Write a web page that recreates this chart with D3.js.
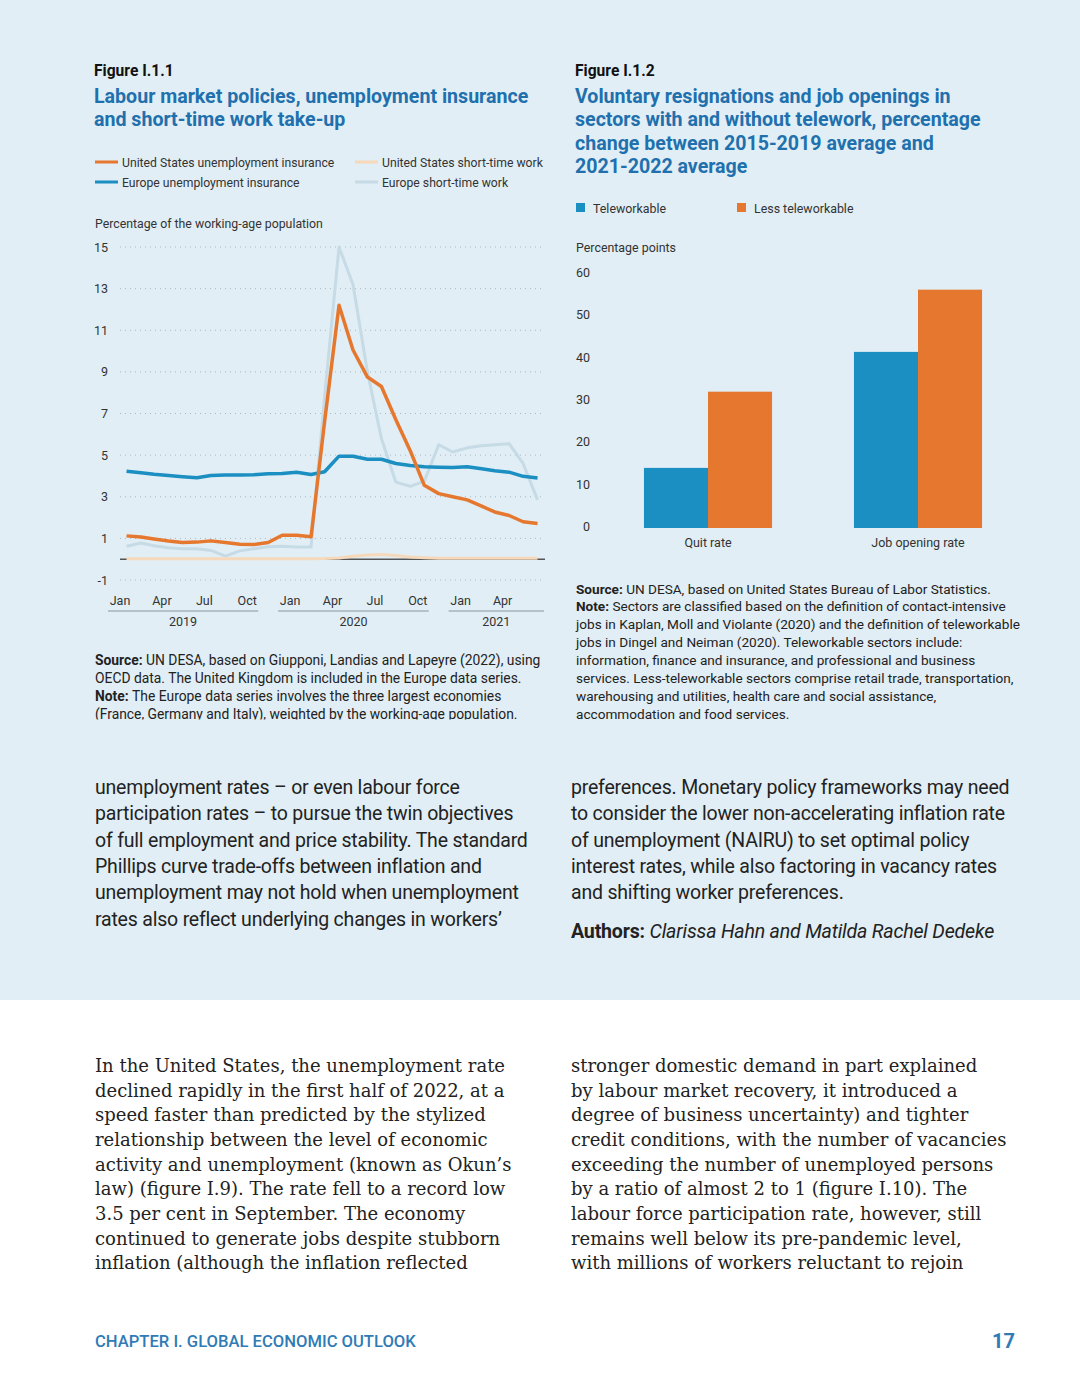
<!DOCTYPE html>
<html>
<head>
<meta charset="utf-8">
<script src="https://cdn.jsdelivr.net/npm/d3@7"></script>
<style>
  html, body { margin: 0; padding: 0; background: #fff; }
  svg { display: block; font-family: Roboto, "Noto Sans", sans-serif; }
</style>
</head>
<body>
<svg id="page"></svg>
<script>
// ----------------------------------
// Data
// ----------------------------------
const months = ["2019-01","2019-02","2019-03","2019-04","2019-05","2019-06","2019-07","2019-08","2019-09","2019-10","2019-11","2019-12",
  "2020-01","2020-02","2020-03","2020-04","2020-05","2020-06","2020-07","2020-08","2020-09","2020-10","2020-11","2020-12",
  "2021-01","2021-02","2021-03","2021-04","2021-05","2021-06"];
const usUnemploymentInsurance = [1.12, 1.07, 0.97, 0.87, 0.80, 0.82, 0.88, 0.80, 0.72, 0.70, 0.80, 1.15,
  1.15, 1.08, 6.6, 12.2, 10.05, 8.75, 8.3, 6.7, 5.2, 3.55, 3.15, 3.0, 2.85, 2.55, 2.27, 2.1, 1.8, 1.72];
const europeUnemploymentInsurance = [4.23, 4.15, 4.08, 4.02, 3.96, 3.91, 4.02, 4.04, 4.05, 4.06, 4.1, 4.12,
  4.18, 4.07, 4.2, 4.95, 4.95, 4.8, 4.8, 4.6, 4.5, 4.44, 4.42, 4.4, 4.44, 4.35, 4.25, 4.18, 3.98, 3.9];
const usShortTimeWork = [0.02, 0.02, 0.02, 0.02, 0.02, 0.02, 0.02, 0.02, 0.02, 0.02, 0.02, 0.02,
  0.02, 0.02, 0.03, 0.06, 0.14, 0.2, 0.22, 0.18, 0.1, 0.07, 0.05, 0.04, 0.04, 0.04, 0.04, 0.04, 0.04, 0.04];
const europeShortTimeWork = [0.62, 0.78, 0.65, 0.55, 0.5, 0.5, 0.42, 0.15, 0.4, 0.5, 0.6, 0.62,
  0.58, 0.58, 7.8, 15.0, 13.2, 9.0, 5.8, 3.7, 3.5, 3.75, 5.5, 5.15, 5.35, 5.45, 5.5, 5.55, 4.6, 2.85];
const lineTicks = [15, 13, 11, 9, 7, 5, 3, 1, -1];
const years = [2019, 2020, 2021];

const barCategories = ["Quit rate", "Job opening rate"];
const teleworkable = [14.2, 41.6];
const lessTeleworkable = [32.2, 56.3];
const barTicks = [0, 10, 20, 30, 40, 50, 60];

const BLUE = "#1b8ec2", ORANGE = "#e5782e";
const lineSeries = [
  { name: "Europe short-time work", values: europeShortTimeWork, color: "#c6dbe6", w: 3 },
  { name: "United States short-time work", values: usShortTimeWork, color: "#f6d9bb", w: 3 },
  { name: "Europe unemployment insurance", values: europeUnemploymentInsurance, color: BLUE, w: 3.5 },
  { name: "United States unemployment insurance", values: usUnemploymentInsurance, color: ORANGE, w: 3.5 }
];

// ----------------------------------
// Page
// ----------------------------------
const W = 1080, H = 1398;
const svg = d3.select("#page").attr("width", W).attr("height", H);
svg.append("rect").attr("width", W).attr("height", 1000).attr("fill", "#e1eef5");

function lines(g, x, y0, dy, arr, attrs) {
  arr.forEach((t, i) => {
    const el = g.append("text").attr("x", x).attr("y", y0 + i * dy);
    for (const k in attrs) el.attr(k, attrs[k]);
    if (Array.isArray(t)) {
      t.forEach(p => el.append("tspan").attr("font-weight", p.b ? 700 : null)
        .attr("font-style", p.i ? "italic" : null).text(p.t));
    } else el.text(t);
  });
}

const TITLE = "#2170ae";

// ---------- Figure I.1.1 ----------
lines(svg, 94, 76, 0, ["Figure I.1.1"], { "font-size": 15.6, "font-weight": 700, fill: "#111" });
lines(svg, 94, 103, 23.3, ["Labour market policies, unemployment insurance", "and short-time work take-up"],
  { "font-size": 19.6, "font-weight": 700, fill: TITLE });

const legendItems = [
  { s: lineSeries[3], x: 95, y: 162 }, { s: lineSeries[1], x: 355, y: 162 },
  { s: lineSeries[2], x: 95, y: 182 }, { s: lineSeries[0], x: 355, y: 182 }
];
legendItems.forEach(d => {
  svg.append("line").attr("x1", d.x).attr("x2", d.x + 23).attr("y1", d.y).attr("y2", d.y)
    .attr("stroke", d.s.color).attr("stroke-width", 3);
  svg.append("text").attr("x", d.x + 27).attr("y", d.y + 4.5).attr("font-size", 12.2)
    .attr("fill", "#333").text(d.s.name);
});
lines(svg, 95, 228, 0, ["Percentage of the working-age population"], { "font-size": 12.3, fill: "#333" });

const parse = d3.timeParse("%Y-%m");
const x = d3.scaleTime().domain([new Date(2019, 0, 1), new Date(2021, 6, 1)]).range([120, 545]);
const y = d3.scaleLinear().domain([-1, 15]).range([580, 247]);
const mid = s => d3.timeDay.offset(parse(s), 14);

const lc = svg.append("g");
lc.append("g").selectAll("line").data(lineTicks).join("line")
  .attr("x1", 120).attr("x2", 545).attr("y1", d => y(d)).attr("y2", d => y(d))
  .attr("stroke", "#a9b8c2").attr("stroke-width", 1).attr("stroke-dasharray", "1,4");
lc.append("g").selectAll("text").data(lineTicks).join("text")
  .attr("x", 108).attr("y", d => y(d) + 4.5).attr("text-anchor", "end")
  .attr("font-size", 12.5).attr("fill", "#333").text(d => d);
lc.append("line").attr("x1", 120).attr("x2", 545).attr("y1", y(0)).attr("y2", y(0))
  .attr("stroke", "#555").attr("stroke-width", 1.5);

const line = d3.line().x((d, i) => x(mid(months[i]))).y(d => y(d));
lc.append("g").selectAll("path").data(lineSeries).join("path")
  .attr("d", d => line(d.values)).attr("fill", "none")
  .attr("stroke", d => d.color).attr("stroke-width", d => d.w)
  .attr("stroke-linejoin", "round");

// x axis labels
const tickDates = d3.timeMonth.every(3).range(new Date(2019, 0, 1), new Date(2021, 4, 1));
lc.append("g").selectAll("text").data(tickDates).join("text")
  .attr("x", d => x(d)).attr("y", 605).attr("text-anchor", "middle")
  .attr("font-size", 12.5).attr("fill", "#333").text(d3.timeFormat("%b"));
years.forEach(yr => {
  const x1 = x(new Date(yr, 0, 1)) - 12;
  const x2 = Math.min(x(new Date(yr, 9, 1)) + 11, 544);
  lc.append("line").attr("x1", x1).attr("x2", x2).attr("y1", 611).attr("y2", 611)
    .attr("stroke", "#8a949a").attr("stroke-width", 1);
  lc.append("text").attr("x", (x1 + x2) / 2).attr("y", 626).attr("text-anchor", "middle")
    .attr("font-size", 12.5).attr("fill", "#333").text(yr);
});

// clip for source notes
const defs = svg.append("defs");
defs.append("clipPath").attr("id", "noteClip").append("rect")
  .attr("x", 0).attr("y", 0).attr("width", W).attr("height", 719.5);

const noteL = svg.append("g").attr("clip-path", "url(#noteClip)");
lines(noteL, 95, 665, 18.1, [
  [{ t: "Source: ", b: 1 }, { t: "UN DESA, based on Giupponi, Landias and Lapeyre (2022), using" }],
  "OECD data. The United Kingdom is included in the Europe data series.",
  [{ t: "Note: ", b: 1 }, { t: "The Europe data series involves the three largest economies" }],
  "(France, Germany and Italy), weighted by the working-age population."
], { "font-size": 13.85, fill: "#222" });

// ---------- Figure I.1.2 ----------
lines(svg, 575, 76, 0, ["Figure I.1.2"], { "font-size": 15.6, "font-weight": 700, fill: "#111" });
lines(svg, 575, 103, 23.3, ["Voluntary resignations and job openings in",
  "sectors with and without telework, percentage",
  "change between 2015-2019 average and", "2021-2022 average"],
  { "font-size": 19.6, "font-weight": 700, fill: TITLE });

[{ c: BLUE, t: "Teleworkable", x: 576 }, { c: ORANGE, t: "Less teleworkable", x: 737 }].forEach(d => {
  svg.append("rect").attr("x", d.x).attr("y", 203).attr("width", 9).attr("height", 9).attr("fill", d.c);
  svg.append("text").attr("x", d.x + 17).attr("y", 212.5).attr("font-size", 12.4).attr("fill", "#333").text(d.t);
});
lines(svg, 576, 252, 0, ["Percentage points"], { "font-size": 12.4, fill: "#333" });

const yb = d3.scaleLinear().domain([0, 60]).range([528, 274]);
const x0 = d3.scaleBand().domain(barCategories).range([603, 1023]).paddingInner(0.39).paddingOuter(0.195);
const x1 = d3.scaleBand().domain(["t", "l"]).range([0, x0.bandwidth()]);
const bc = svg.append("g");
bc.append("g").selectAll("text").data(barTicks).join("text")
  .attr("x", 590).attr("y", d => yb(d) + 3).attr("text-anchor", "end")
  .attr("font-size", 12.5).attr("fill", "#333").text(d => d);
const grp = bc.selectAll("g.grp").data(barCategories).join("g").attr("class", "grp")
  .attr("transform", d => `translate(${x0(d)},0)`);
grp.selectAll("rect").data((d, i) => [{ k: "t", v: teleworkable[i], c: BLUE }, { k: "l", v: lessTeleworkable[i], c: ORANGE }])
  .join("rect").attr("x", d => x1(d.k)).attr("width", x1.bandwidth())
  .attr("y", d => yb(d.v)).attr("height", d => yb(0) - yb(d.v)).attr("fill", d => d.c);
bc.append("g").selectAll("text").data(barCategories).join("text")
  .attr("x", d => x0(d) + x0.bandwidth() / 2).attr("y", 547).attr("text-anchor", "middle")
  .attr("font-size", 12.5).attr("fill", "#333").text(d => d);

const noteR = svg.append("g").attr("clip-path", "url(#noteClip)");
lines(noteR, 576, 593.5, 17.9, [
  [{ t: "Source: ", b: 1 }, { t: "UN DESA, based on United States Bureau of Labor Statistics." }],
  [{ t: "Note: ", b: 1 }, { t: "Sectors are classified based on the definition of contact-intensive" }],
  "jobs in Kaplan, Moll and Violante (2020) and the definition of teleworkable",
  "jobs in Dingel and Neiman (2020). Teleworkable sectors include:",
  "information, finance and insurance, and professional and business",
  "services. Less-teleworkable sectors comprise retail trade, transportation,",
  "warehousing and utilities, health care and social assistance,",
  "accommodation and food services."
], { "font-size": 13.6, fill: "#222" });

// ---------- Body text ----------
const bodyAttrs = { "font-size": 19.5, fill: "#222", "letter-spacing": -0.2 };
lines(svg, 95, 794, 26.3, [
  "unemployment rates – or even labour force",
  "participation rates – to pursue the twin objectives",
  "of full employment and price stability. The standard",
  "Phillips curve trade-offs between inflation and",
  "unemployment may not hold when unemployment",
  "rates also reflect underlying changes in workers’"
], bodyAttrs);
lines(svg, 571, 794, 26.3, [
  "preferences. Monetary policy frameworks may need",
  "to consider the lower non-accelerating inflation rate",
  "of unemployment (NAIRU) to set optimal policy",
  "interest rates, while also factoring in vacancy rates",
  "and shifting worker preferences."
], bodyAttrs);
lines(svg, 571, 938, 0, [[{ t: "Authors: ", b: 1 }, { t: "Clarissa Hahn and Matilda Rachel Dedeke", i: 1 }]],
  { "font-size": 19.6, fill: "#222", "letter-spacing": -0.2 });

const serifAttrs = { "font-size": 18, fill: "#222", "font-family": "'DejaVu Serif', 'Liberation Serif', serif" };
lines(svg, 95, 1072, 24.65, [
  "In the United States, the unemployment rate",
  "declined rapidly in the first half of 2022, at a",
  "speed faster than predicted by the stylized",
  "relationship between the level of economic",
  "activity and unemployment (known as Okun’s",
  "law) (figure I.9). The rate fell to a record low",
  "3.5 per cent in September. The economy",
  "continued to generate jobs despite stubborn",
  "inflation (although the inflation reflected"
], serifAttrs);
lines(svg, 571, 1072, 24.65, [
  "stronger domestic demand in part explained",
  "by labour market recovery, it introduced a",
  "degree of business uncertainty) and tighter",
  "credit conditions, with the number of vacancies",
  "exceeding the number of unemployed persons",
  "by a ratio of almost 2 to 1 (figure I.10). The",
  "labour force participation rate, however, still",
  "remains well below its pre-pandemic level,",
  "with millions of workers reluctant to rejoin"
], serifAttrs);

// ---------- Footer ----------
lines(svg, 95, 1347, 0, ["CHAPTER I. GLOBAL ECONOMIC OUTLOOK"], { "font-size": 16.6, "font-weight": 500, fill: "#2f7bb6" });
lines(svg, 1015, 1348, 0, ["17"], { "font-size": 20, "font-weight": 700, fill: "#2f7bb6", "text-anchor": "end" });
</script>
</body>
</html>
